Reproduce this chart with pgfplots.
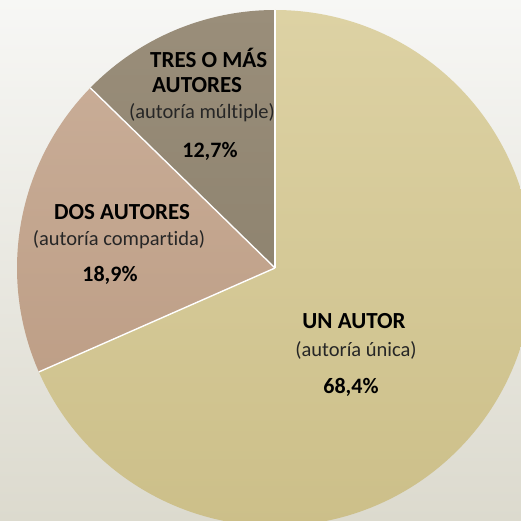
\documentclass[border=0pt]{standalone}
\usepackage{pgfplots}
\pgfplotsset{compat=1.18}
\usepackage{pgfplotstable}
\usepackage{fontspec}
\setmainfont{Carlito}[Ligatures={NoCommon,NoContextual}]

\definecolor{bgtop}{HTML}{F7F7F5}
\definecolor{bgbot}{HTML}{DCDACE}
\definecolor{untop}{HTML}{DDD2A4}
\definecolor{unbot}{HTML}{CCBF89}
\definecolor{dostop}{HTML}{C8AC96}
\definecolor{dosbot}{HTML}{BE9F87}
\definecolor{trestop}{HTML}{9A8E7A}
\definecolor{tresbot}{HTML}{8F8470}

% porcentaje de artículos por número de autores
\pgfplotstableread{
grupo share
un    68.4
dos   18.9
tres  12.7
}\autores

\pgfplotstablegetelem{0}{share}\of\autores \let\shareUn\pgfplotsretval
\pgfplotstablegetelem{1}{share}\of\autores \let\shareDos\pgfplotsretval
\pgfplotstablegetelem{2}{share}\of\autores \let\shareTres\pgfplotsretval
\pgfmathsetmacro\aA{90-3.6*\shareUn}
\pgfmathsetmacro\aB{\aA-3.6*\shareDos}
\pgfmathsetmacro\aC{\aB-3.6*\shareTres}

\tikzset{
  big/.style={font=\bfseries\fontsize{23}{25}\selectfont, inner sep=0pt},
  small/.style={font=\fontsize{20.5}{22}\selectfont, text=black!85, inner sep=0pt},
  pct/.style={font=\bfseries\fontsize{22}{24}\selectfont, inner sep=0pt},
}

\begin{document}
\begin{tikzpicture}
\begin{axis}[
    width=521pt, height=520pt, scale only axis,
    xmin=0, xmax=521, ymin=0, ymax=520,
    hide axis, clip=true,
]
\shade[top color=bgtop, bottom color=bgbot] (axis cs:0,0) rectangle (axis cs:521,520);
% sectores
\shade[top color=untop, bottom color=unbot] (axis cs:275,252) -- ++(90:258pt)
    arc[start angle=90, end angle=\aA, radius=258pt] -- cycle;
\shade[top color=dostop, bottom color=dosbot] (axis cs:275,252) -- ++(\aA:258pt)
    arc[start angle=\aA, end angle=\aB, radius=258pt] -- cycle;
\shade[top color=trestop, bottom color=tresbot] (axis cs:275,252) -- ++(\aB:258pt)
    arc[start angle=\aB, end angle=\aC, radius=258pt] -- cycle;
\draw[white, line width=1.4pt] (axis cs:275,252) -- ++(90:258pt);
\draw[white, line width=1.4pt] (axis cs:275,252) -- ++(\aA:258pt);
\draw[white, line width=1.4pt] (axis cs:275,252) -- ++(\aB:258pt);

% etiquetas
\node[big, anchor=west] at (axis cs:150,462) {TRES O MÁS};
\node[big, anchor=west] at (axis cs:152,435) {AUTORES};
\node[small] at (axis cs:202,407) {(autoría múltiple)};
\node[pct] at (axis cs:210,369) {12,7\%};

\node[big] at (axis cs:122,308) {DOS AUTORES};
\node[small] at (axis cs:119,280) {(autoría compartida)};
\node[pct] at (axis cs:110,245) {18,9\%};

\node[big] at (axis cs:354,199) {UN AUTOR};
\node[small] at (axis cs:356,170) {(autoría única)};
\node[pct] at (axis cs:351,133) {68,4\%};
\end{axis}
\pgfresetboundingbox
\path[use as bounding box] (0,0) rectangle (521pt,520pt);
\end{tikzpicture}
\end{document}
